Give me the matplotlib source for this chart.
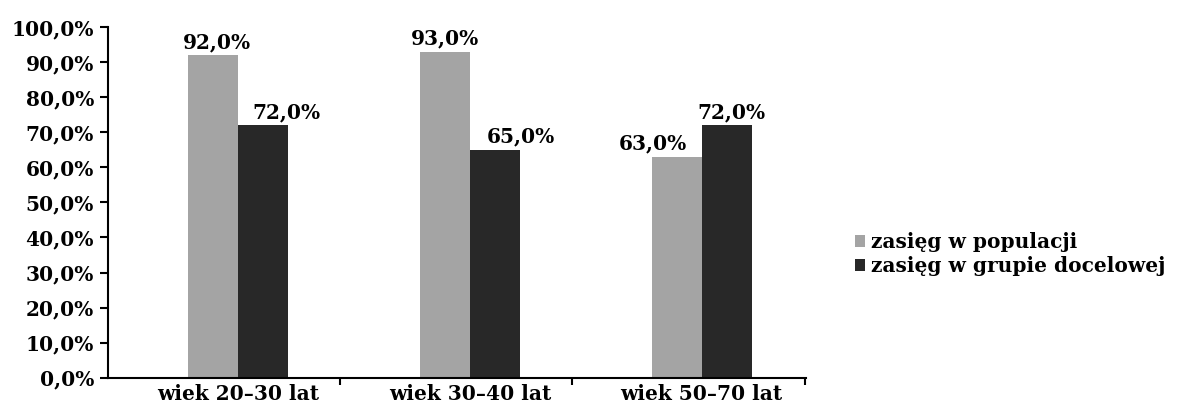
import matplotlib.pyplot as plt
import numpy as np
from matplotlib.ticker import FuncFormatter, FixedLocator

categories = ['wiek 20–30 lat', 'wiek 30–40 lat', 'wiek 50–70 lat']
populacja = [92.0, 93.0, 63.0]
grupa_docelowa = [72.0, 65.0, 72.0]
series_names = ['zasięg w populacji', 'zasięg w grupie docelowej']

# label nudges (pixels) as placed in the original
nudge_pop = [4, 0, -24]
nudge_grp = [24, 26, 5]

plt.rcParams['font.family'] = ['DejaVu Serif']
FS = 14.5
FW = 'bold'

fig = plt.figure(figsize=(11.77, 4.19), dpi=100)
ax = fig.add_axes([108 / 1177, 1 - 377.5 / 419, (806 - 108) / 1177, 350 / 419])

x = np.arange(len(categories))
w = 0.215
b1 = ax.bar(x - w / 2, populacja, w, color='#a4a4a4', label=series_names[0])
b2 = ax.bar(x + w / 2, grupa_docelowa, w, color='#282828', label=series_names[1])


def pct(v, pos=None):
    return f"{v:.1f}%".replace('.', ',')


for bars, nudges in ((b1, nudge_pop), (b2, nudge_grp)):
    for rect, dx in zip(bars, nudges):
        h = rect.get_height()
        ax.annotate(pct(h), (rect.get_x() + rect.get_width() / 2, h),
                    xytext=(dx * 0.72, 2.5), textcoords='offset points',
                    ha='center', va='bottom', fontsize=FS, fontweight=FW, color='black')

ax.set_ylim(0, 100)
ax.set_yticks(np.arange(0, 101, 10))
ax.yaxis.set_major_formatter(FuncFormatter(pct))
ax.set_xlim(-0.56, 2.45)
ax.set_xticks(x)
ax.set_xticklabels(categories)
ax.xaxis.set_minor_locator(FixedLocator([0.44, 1.44, 2.445]))
ax.tick_params(axis='x', which='major', length=0, pad=5, labelsize=FS)
ax.tick_params(axis='x', which='minor', length=5, width=1.5, direction='out')
ax.tick_params(axis='y', length=6, width=1.5, labelsize=FS, pad=4)
for lab in ax.get_xticklabels() + ax.get_yticklabels():
    lab.set_fontweight(FW)

for s in ('top', 'right'):
    ax.spines[s].set_visible(False)
for s in ('left', 'bottom'):
    ax.spines[s].set_linewidth(1.5)

fig.legend(handles=[b1, b2], loc='upper left', bbox_to_anchor=(845 / 1177, 1 - 222 / 419),
           frameon=False, prop={'size': FS, 'weight': FW}, handlelength=0.5, handleheight=0.5,
           handletextpad=0.3, labelspacing=0.2, borderpad=0)

fig.savefig('out.png', dpi=100)
